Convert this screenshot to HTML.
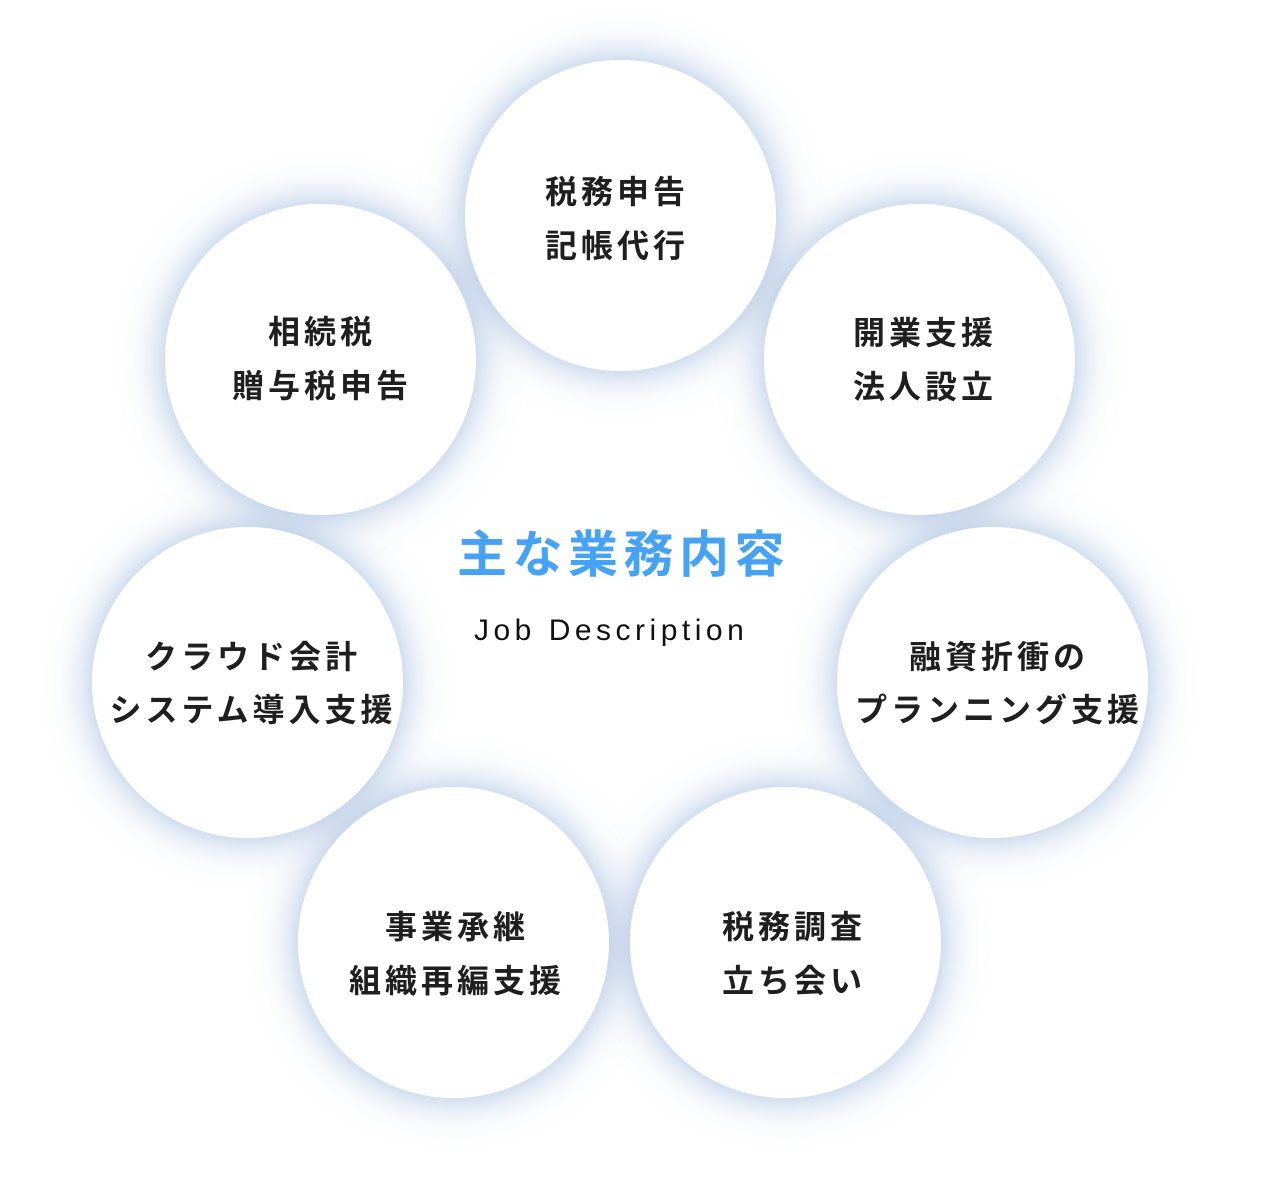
<!DOCTYPE html>
<html>
<head>
<meta charset="utf-8">
<style>
  html, body { margin:0; padding:0; background:#ffffff; }
  body { width:1273px; height:1196px; position:relative; overflow:hidden; }
  .sh, .c { position:absolute; width:311px; height:311px; border-radius:50%; background:#fff; }
  .sh { box-shadow: 0 0 42px 0 rgba(70,120,190,0.5); }
  .t { position:absolute; width:400px; text-align:center;
       font-family:"Liberation Sans","Noto Sans CJK JP",sans-serif;
       font-weight:700; font-size:32px; line-height:54px; color:#1f1f1f;
       letter-spacing:4px; padding-left:4px; box-sizing:border-box; white-space:nowrap; }
  .title { position:absolute; left:457px; top:524px; white-space:nowrap;
       font-family:"Liberation Sans","Noto Sans CJK JP",sans-serif; font-weight:700;
       font-size:50px; line-height:62px; color:#45a2f6; letter-spacing:5.5px; }
  .sub { position:absolute; left:474px; top:613px; white-space:nowrap;
       font-family:"Liberation Sans",sans-serif; font-size:30px; line-height:36px;
       color:#111; letter-spacing:4.5px; }
</style>
</head>
<body>
  <!-- shadows layer -->
  <div class="sh" style="left:465px;top:60px;"></div>
  <div class="sh" style="left:165px;top:204px;"></div>
  <div class="sh" style="left:764px;top:204px;"></div>
  <div class="sh" style="left:92px;top:527px;"></div>
  <div class="sh" style="left:837px;top:527px;"></div>
  <div class="sh" style="left:298px;top:787px;"></div>
  <div class="sh" style="left:630px;top:787px;"></div>

  <!-- white circles -->
  <div class="c" style="left:465px;top:60px;"></div>
  <div class="c" style="left:165px;top:204px;"></div>
  <div class="c" style="left:764px;top:204px;"></div>
  <div class="c" style="left:92px;top:527px;"></div>
  <div class="c" style="left:837px;top:527px;"></div>
  <div class="c" style="left:298px;top:787px;"></div>
  <div class="c" style="left:630px;top:787px;"></div>

  <!-- labels -->
  <div class="t" style="left:415px;top:165px;">税務申告<br>記帳代行</div>
  <div class="t" style="left:120px;top:305px;">相続税<br>贈与税申告</div>
  <div class="t" style="left:723px;top:306px;">開業支援<br>法人設立</div>
  <div class="t" style="left:51px;top:631px;line-height:53px;">クラウド会計<br>システム導入支援</div>
  <div class="t" style="left:797px;top:631px;line-height:53px;">融資折衝の<br>プランニング支援</div>
  <div class="t" style="left:255px;top:900px;">事業承継<br>組織再編支援</div>
  <div class="t" style="left:592px;top:900px;">税務調査<br>立ち会い</div>

  <div class="title">主な業務内容</div>
  <div class="sub">Job Description</div>
</body>
</html>
